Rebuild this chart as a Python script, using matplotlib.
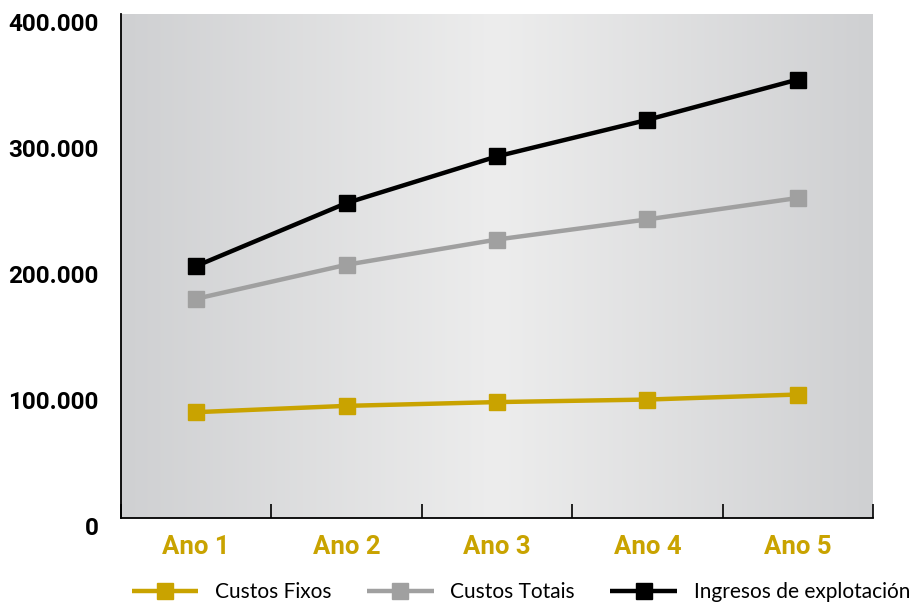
import numpy as np
import matplotlib
matplotlib.use("Agg")
import matplotlib.pyplot as plt
import matplotlib.transforms as mtransforms
from matplotlib.colors import LinearSegmentedColormap

# Data
anos = ["Ano 1", "Ano 2", "Ano 3", "Ano 4", "Ano 5"]
custos_fixos = [84000, 89000, 92000, 94000, 98000]
custos_totais = [174000, 201000, 221000, 237000, 254000]
ingresos = [200000, 250000, 287000, 316000, 348000]
y_ticks = [0, 100000, 200000, 300000, 400000]
y_labels = ["0", "100.000", "200.000", "300.000", "400.000"]

gold = "#c9a300"
grey = "#a0a0a0"
black = "#000000"

fig = plt.figure(figsize=(9.10, 6.05), dpi=100)
ax = fig.add_axes([121 / 910, 87 / 605, 752 / 910, 504 / 605])

x = np.arange(len(anos))
ax.set_xlim(-0.5, len(anos) - 0.5)
ax.set_ylim(0, 400000)

# Horizontal grey gradient behind the plot
cmap = LinearSegmentedColormap.from_list(
    "bg", ["#cfd0d2", "#ededed", "#cfd0d2"])
grad = np.linspace(0, 1, 256).reshape(1, -1)
ax.imshow(grad, cmap=cmap, aspect="auto", extent=(-0.5, len(anos) - 0.5, 0, 400000),
          zorder=0, interpolation="bicubic")

line_kw = dict(lw=3.2, marker="s", markersize=11, solid_capstyle="butt")
ax.plot(x, custos_fixos, color=gold, label="Custos Fixos", zorder=3, **line_kw)
ax.plot(x, custos_totais, color=grey, label="Custos Totais", zorder=3, **line_kw)
ax.plot(x, ingresos, color=black, label="Ingresos de explotación", zorder=3, **line_kw)

for s in ["top", "right"]:
    ax.spines[s].set_visible(False)
for s in ["left", "bottom"]:
    ax.spines[s].set_linewidth(1.3)
    ax.spines[s].set_color("black")

# Category boundary ticks pointing into the plot
ax.set_xticks(np.arange(-0.5, len(anos)), minor=False)
ax.set_xticklabels([])
ax.tick_params(axis="x", direction="in", length=10, width=1.2, color="black")
for xi, lab in zip(x, anos):
    ax.text(xi, -0.033, lab, transform=ax.get_xaxis_transform(),
            ha="center", va="top", color=gold, fontsize=18.5, fontweight="bold",
            family=["Roboto", "DejaVu Sans"])

ax.set_yticks(y_ticks)
ax.set_yticklabels(y_labels, fontsize=17.5, fontweight="bold",
                   family=["Roboto", "DejaVu Sans"])
ax.tick_params(axis="y", length=0, pad=16)
offset = mtransforms.ScaledTranslation(0, -8 / 100, fig.dpi_scale_trans)
for lbl in ax.get_yticklabels():
    lbl.set_transform(lbl.get_transform() + offset)

leg = fig.legend(loc="center", bbox_to_anchor=(521 / 910, 13 / 605), ncol=3,
                 frameon=False, handlelength=3.2, handletextpad=0.8,
                 columnspacing=1.7, prop={"family": "Lato", "size": 15})

fig.savefig("out.png", dpi=100)
